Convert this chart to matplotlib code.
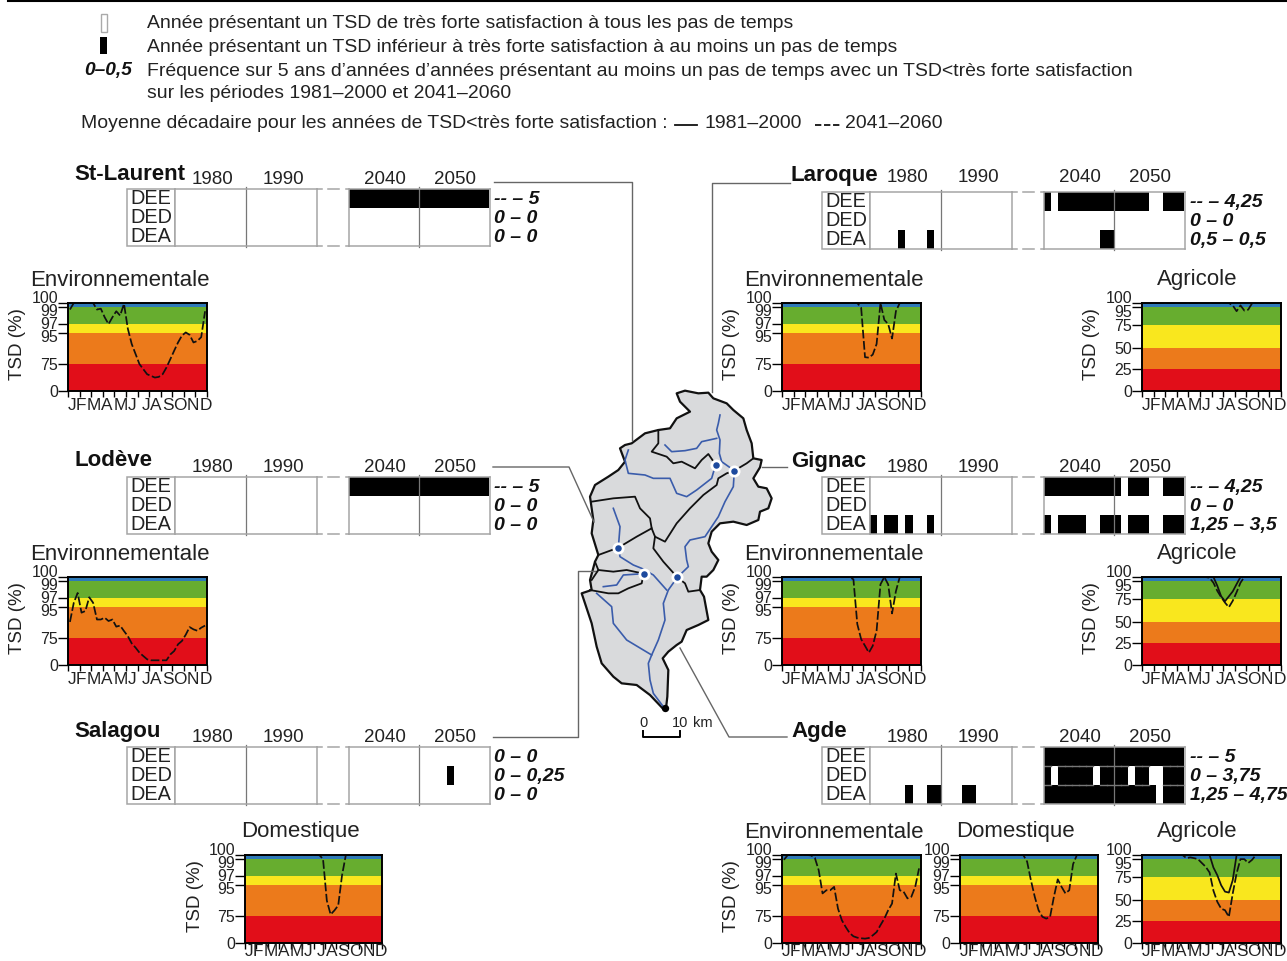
#TSD panels for the Herault stations, with basin map in the middle

import numpy as np
import matplotlib
matplotlib.use('Agg')
import matplotlib.pyplot as plt
from matplotlib.patches import Polygon, Rectangle
from matplotlib.transforms import ScaledTranslation

plt.rcParams['font.family'] = ['Liberation Sans', 'DejaVu Sans']

W, H = 1287, 961
TXT = '#222222'
GREY = '#a5a5a5'

MONTHS = ['J', 'F', 'M', 'A', 'M', 'J', 'J', 'A', 'S', 'O', 'N', 'D']
# the month letters sit side by side, not centred on their month
MONTH_POS = [0.95, 3.45, 6.75, 10.15, 13.55, 16.6, 20.1, 22.75, 25.8, 29.05, 32.45, 35.7]
ROWS = ['DEE', 'DED', 'DEA']

ENV_TICKS = [0, 75, 95, 97, 99, 100]
ENV_POS = [0, 0.31, 0.655, 0.76, 0.955, 1]
AGR_TICKS = [0, 25, 50, 75, 95, 100]
AGR_POS = [0, 0.245, 0.49, 0.75, 0.955, 1]

BAND_COLORS = ['#e10e19', '#ec7a1b', '#f9e71e', '#67ad2f', '#2e7ab8']

# 36 decades
stl_env = [98.7, 100, 100, 100, 100, 100, 100, 98.7, 98.8, 97.8, 97, 97.8,
           98.5, 98, 99.8, 96, 88, 81.4, 74, 60, 46, 41.6, 37, 38.8,
           46, 64.6, 78, 83.6, 89, 93.5, 95.2, 94, 89, 90, 92.5, 98.5]
lod_env = [85.4, 96, 97.6, 91.5, 92.6, 97.1, 96, 87, 87, 88.2, 86, 87,
           82.3, 83, 79.4, 76, 59.5, 47.7, 34, 24.7, 15.6, 12.9, 12.9, 12.9,
           12.9, 12.9, 29, 38.5, 57, 66, 77, 82, 80.5, 79.6, 81.6, 83]
sal_dom = [100, 100, 100, 100, 100, 100, 100, 100, 100, 100, 100, 100,
           100, 100, 100, 100, 100, 100, 100, 100, 99, 85, 75.8, 78.5,
           81.8, 97.1, 100, 100, 100, 100, 100, 100, 100, 100, 100, 100]
lar_env = [100, 100, 100, 100, 100, 100, 100, 100, 100, 100, 100, 100,
           100, 100, 100, 100, 100, 100, 100, 100, 98.9, 79.3, 79, 81,
           88, 100, 97.5, 97, 91.6, 98.5, 100, 100, 100, 100, 100, 100]
lar_agr = [100, 100, 100, 100, 100, 100, 100, 100, 100, 100, 100, 100,
           100, 100, 100, 100, 100, 100, 100, 100, 100, 100, 100, 97,
           90.3, 97, 91, 92, 99.5, 100, 100, 100, 100, 100, 100, 100]
gig_env = [100, 100, 100, 100, 100, 100, 100, 100, 100, 100, 100, 100,
           100, 100, 100, 100, 100, 100, 99.4, 84, 71, 52.7, 34, 52.7,
           79.6, 98.6, 100, 98.6, 91, 97.8, 100, 100, 100, 100, 100, 100]
gig_agr_old = [100, 100, 100, 100, 100, 100, 100, 100, 100, 100, 100, 100,
               100, 100, 100, 100, 100, 100, 100, 89.7, 78, 72.6, 78, 83.4,
               91.5, 100, 100, 100, 100, 100, 100, 100, 100, 100, 100, 100]
gig_agr = [100, 100, 100, 100, 100, 100, 100, 100, 100, 100, 100, 100,
           100, 100, 100, 100, 100, 99, 93, 84, 77, 71, 66, 73,
           82.5, 93, 100, 100, 100, 100, 100, 100, 100, 100, 100, 100]
agd_env = [98.9, 100, 100, 100, 100, 100, 100, 99.9, 99.3, 97.7, 89.7, 91.8,
           91.8, 94, 79.7, 62.6, 44, 27.6, 18.4, 14.7, 13, 12, 13.8, 21,
           30, 49, 67, 78.6, 83, 97.3, 91.8, 90.8, 86.4, 87.5, 94, 97.9]
agd_dom = [100, 100, 100, 100, 100, 100, 100, 100, 100, 100, 100, 100,
           100, 100, 100, 100, 100, 98.7, 96.1, 87.5, 78.6, 72, 67, 72,
           87.5, 96.3, 94, 89.7, 91.8, 98.4, 100, 100, 100, 100, 100, 100]
agd_agr_old = [100, 100, 100, 100, 100, 100, 100, 100, 100, 100, 100, 100,
               100, 100, 100, 100, 100, 100, 85.5, 77, 66, 59, 58, 71.6,
               100, 100, 100, 100, 100, 100, 100, 100, 100, 100, 100, 100]
agd_agr = [100, 100, 100, 100, 100, 100, 100, 100, 100, 100, 100, 96,
           97, 96, 94.8, 90.5, 86.3, 80, 60, 47.8, 39.8, 38, 30.3, 57,
           79, 94.8, 94.8, 90.5, 94, 100, 100, 100, 100, 100, 100, 100]

# years with TSD below very high satisfaction, [DEE, DED, DEA]
stl_past = [[], [], []]
stl_fut = [list(range(2041, 2061)), [], []]
lod_past = [[], [], []]
lod_fut = [list(range(2041, 2061)), [], []]
sal_past = [[], [], []]
sal_fut = [[], [2055], []]
lar_past = [[], [], [1985, 1989]]
lar_fut = [[2041, 2043, 2044, 2045, 2046, 2047, 2048, 2049, 2050, 2051, 2052, 2053, 2054, 2055, 2058, 2059, 2060],
           [], [2049, 2050]]
gig_past = [[], [], [1981, 1983, 1984, 1986, 1989]]
gig_fut = [[2041, 2042, 2043, 2044, 2045, 2046, 2047, 2048, 2049, 2050, 2051, 2053, 2054, 2055, 2058, 2059, 2060],
           [],
           [2041, 2043, 2044, 2045, 2046, 2049, 2050, 2051, 2053, 2054, 2055, 2058, 2059, 2060]]
agd_past = [[], [], [1986, 1989, 1990, 1994, 1995]]
agd_fut = [list(range(2041, 2061)),
           [2041, 2043, 2044, 2045, 2046, 2047, 2049, 2050, 2051, 2052, 2054, 2055, 2058, 2059, 2060],
           [2041, 2042, 2043, 2044, 2045, 2046, 2047, 2048, 2049, 2050, 2051, 2052, 2053, 2054, 2055, 2056, 2058, 2059, 2060]]

stl_freq = ['-- \u2013 5', '0 \u2013 0', '0 \u2013 0']
lod_freq = ['-- \u2013 5', '0 \u2013 0', '0 \u2013 0']
sal_freq = ['0 \u2013 0', '0 \u2013 0,25', '0 \u2013 0']
lar_freq = ['-- \u2013 4,25', '0 \u2013 0', '0,5 \u2013 0,5']
gig_freq = ['-- \u2013 4,25', '0 \u2013 0', '1,25 \u2013 3,5']
agd_freq = ['-- \u2013 5', '0 \u2013 3,75', '1,25 \u2013 4,75']

# basin map, in units of a 3x crop starting at (570, 380)
basin = [(320, 40), (345, 32), (385, 40), (415, 38), (430, 55), (470, 70), (490, 90), (520, 115),
         (530, 150), (545, 190), (550, 235), (575, 240), (570, 262), (550, 295), (565, 320), (590, 325),
         (605, 355), (595, 385), (570, 395), (565, 420), (530, 435), (490, 425), (450, 430), (425, 455),
         (415, 490), (425, 515), (445, 540), (430, 570), (410, 590), (395, 590), (390, 630), (402, 650),
         (415, 720), (385, 735), (350, 750), (335, 785), (320, 795), (295, 815), (278, 835), (295, 870),
         (292, 950), (288, 985), (278, 985), (240, 945), (200, 915), (155, 910), (130, 890), (95, 850),
         (80, 800), (65, 730), (45, 670), (35, 640), (65, 630), (60, 600), (75, 545), (85, 525),
         (65, 460), (70, 420), (60, 350), (75, 315), (115, 290), (145, 270), (165, 245), (150, 205),
         (165, 195), (185, 190), (225, 160), (265, 150), (300, 145), (320, 115), (360, 95), (330, 65)]
borders = [
    [(265, 150), (265, 190), (245, 215), (290, 230), (310, 250), (335, 245), (375, 265), (395, 240), (415, 222), (437, 254)],
    [(550, 235), (530, 250), (493, 272), (470, 280), (445, 295), (440, 315), (400, 345), (360, 385), (320, 430),
     (285, 485), (255, 470), (245, 445)],
    [(65, 365), (130, 355), (195, 350), (210, 385), (240, 415), (245, 445), (200, 470), (145, 503), (85, 525)],
    [(255, 470), (250, 505), (280, 545), (322, 592), (345, 610), (355, 635), (390, 630)],
    [(75, 545), (85, 570), (130, 575), (170, 570), (221, 581), (215, 610), (175, 625), (145, 640), (115, 640), (60, 630)],
    [(85, 570), (65, 600)],
]
rivers = [
    [(450, 105), (445, 130), (440, 150), (450, 180), (448, 220), (455, 245), (493, 272)],
    [(285, 195), (305, 215), (345, 212), (380, 205), (395, 185), (440, 175)],
    [(175, 210), (165, 240), (175, 280), (225, 285), (250, 295), (300, 295), (320, 340), (350, 350), (380, 330), (425, 295), (437, 254)],
    [(493, 272), (490, 320), (465, 365), (445, 410), (405, 470), (360, 480), (345, 500), (350, 540), (355, 560), (322, 592)],
    [(130, 385), (150, 440), (145, 503), (150, 530), (190, 555), (215, 565), (250, 585), (290, 630)],
    [(322, 592), (295, 630), (280, 670), (285, 720), (265, 780), (245, 825), (235, 850), (240, 900), (250, 940), (280, 980)],
    [(80, 640), (125, 680), (130, 730), (170, 780), (245, 825)],
    [(100, 620), (140, 615), (160, 585), (221, 581)],
]
stations = [(437, 254), (493, 272), (145, 503), (221, 581), (322, 592)]

fig = plt.figure(figsize=(W / 100, H / 100), dpi=100)
bg = fig.add_axes([0, 0, 1, 1])
bg.set_xlim(0, W)
bg.set_ylim(H, 0)
bg.axis('off')


def px_axes(x0, y0, x1, y1):
    return fig.add_axes([x0 / W, 1 - y1 / H, (x1 - x0) / W, (y1 - y0) / H])


def crop(pts):
    a = np.array(pts, dtype=float)
    return a / 3 + [570, 380]


def tsd_panel(x0, y0, x1, y1, title, title_x, ticks, pos, series_dash, series_solid=None, ylabel=True, month_pad=5):
    ax = px_axes(x0, y0, x1, y1)
    ax.set_yscale('function', functions=(lambda v: np.interp(v, ticks, pos),
                                         lambda f: np.interp(f, pos, ticks)))
    ax.set_ylim(0, 100)
    ax.set_xlim(0, 36)
    for i in range(5):
        ax.axhspan(ticks[i], ticks[i + 1], color=BAND_COLORS[i], lw=0)
    x = np.arange(36) + 0.5
    if series_solid is not None:
        ax.plot(x, series_solid, color='#111111', lw=1.25)
    ax.plot(x, series_dash, color='#111111', lw=1.25, ls=(0, (5, 1.5)))
    ax.set_yticks(ticks)
    ax.set_yticklabels([str(t) for t in ticks], fontsize=11.5, color=TXT)
    ax.yaxis.set_minor_locator(matplotlib.ticker.NullLocator())
    ax.tick_params(axis='y', length=7, width=1, pad=0)
    # the top labels are pushed apart so they stay readable
    shifts = {100: 6, 99: -3, 97: 1, 95: -3} if ticks is ENV_TICKS else {100: 6, 95: -4}
    for lab, t in zip(ax.get_yticklabels(), ticks):
        if t in shifts:
            lab.set_transform(lab.get_transform() + ScaledTranslation(0, shifts[t] / 100, fig.dpi_scale_trans))
    ax.set_xticks(np.arange(0, 37, 3))
    ax.set_xticklabels([])
    ax.set_xticks(MONTH_POS, labels=MONTHS, minor=True, fontsize=12.4, color=TXT)
    ax.tick_params(axis='x', which='major', length=4, width=1)
    ax.tick_params(axis='x', which='minor', length=0, pad=month_pad)
    for s in ax.spines.values():
        s.set_linewidth(1.4)
    bg.text(title_x, y0 - 23, title, fontsize=16, color=TXT, ha='center', va='center')
    if ylabel:
        bg.text(x0 - 50, (y0 + y1) / 2 - 3, 'TSD (%)', fontsize=13.5, color=TXT, rotation=90, ha='center', va='center')
    return ax


def period_axes(x0, y0, x1, y1, start, labels, black, label_shift, label_pad):
    ax = px_axes(x0, y0, x1, y1)
    ax.set_xlim(start, start + 20)
    ax.set_ylim(3, 0)
    for r in range(3):
        for yr in black[r]:
            ax.bar(yr, 1, width=1, bottom=r, align='edge', color='black', lw=0)
    for r in range(2):
        for yr in set(black[r]) & set(black[r + 1]):
            ax.plot([yr, yr + 1], [r + 1, r + 1], color='#777777', lw=1)
    ax.set_xticks([start + 5 + label_shift, start + 15 + label_shift], labels=labels, fontsize=13.5, color=TXT)
    ax.set_yticks([])
    ax.tick_params(axis='x', length=0, pad=label_pad, bottom=False, top=False, labelbottom=False, labeltop=True)
    ax.plot([start + 10, start + 10], [-0.12, 3.1], color='#777777', lw=0.9, clip_on=False)
    for s in ax.spines.values():
        s.set_color(GREY)
        s.set_linewidth(1.1)
    return ax


def strip(name, x_off, y0, past, fut, freq, name_x, name_y, label_pad=1):
    y1 = y0 + 56.5
    x_lab, x_a, x_b, x_c, x_d = 127 + x_off, 175 + x_off, 317 + x_off, 349 + x_off, 489.5 + x_off
    period_axes(x_a, y0, x_b, y1, 1981, ['1980', '1990'], past, 0.3, label_pad)
    period_axes(x_c, y0, x_d, y1, 2041, ['2040', '2050'], fut, 0.1, label_pad)
    bg.add_patch(Rectangle((x_lab, y0), x_a - x_lab, y1 - y0, fc='white', ec=GREY, lw=1.1))
    for r, row in enumerate(ROWS):
        ym = y0 + (r + 0.5) * (y1 - y0) / 3
        bg.text((x_lab + x_a) / 2, ym + 0.5, row, fontsize=14.3, color=TXT, ha='center', va='center')
        bg.text(x_d + 5, ym + 1, freq[r], fontsize=14, color='#111111', style='italic', weight='bold', ha='left', va='center')
    for yy in (y0, y1):
        bg.plot([x_b, x_b + 5], [yy, yy], color=GREY, lw=1.1)
        bg.plot([x_b + 11, x_b + 22], [yy, yy], color=GREY, lw=1.1)
        bg.plot([x_c - 3, x_c], [yy, yy], color=GREY, lw=1.1)
    bg.text(name_x, name_y, name, fontsize=16, weight='bold', color='#111111', ha='left', va='center')


# legend block
bg.plot([8, W], [0.5, 0.5], color='black', lw=1.5)
bg.add_patch(Rectangle((100.5, 14), 6.5, 18, fc='white', ec='#aaaaaa', lw=1))
bg.add_patch(Rectangle((100, 37), 7, 17, fc='black', ec='none'))
legend_lines = [
    (147, 24, 'Année présentant un TSD de très forte satisfaction à tous les pas de temps'),
    (147, 47, 'Année présentant un TSD inférieur à très forte satisfaction à au moins un pas de temps'),
    (147, 71, 'Fréquence sur 5 ans d\u2019années d\u2019années présentant au moins un pas de temps avec un TSD<très forte satisfaction'),
    (147, 94, 'sur les périodes 1981\u20132000 et 2041\u20132060'),
    (81, 124, 'Moyenne décadaire pour les années de TSD<très forte satisfaction :'),
    (704, 124, '1981\u20132000'),
    (845, 124, '2041\u20132060'),
]
for lx, ly, s in legend_lines:
    bg.text(lx, ly, s, fontsize=13.95, color=TXT, ha='left', va='center')
bg.text(84, 70, '0\u20130,5', fontsize=13.8, style='italic', weight='bold', color='#111111', ha='left', va='center')
bg.plot([675, 697], [125, 125], color='#111111', lw=1.3)
bg.plot([815, 840], [125, 125], color='#111111', lw=1.3, ls=(0, (3.5, 1.5)))

# connectors between station names and the map
connectors = [
    [(494, 182), (632, 182), (632, 440)],
    [(790, 183), (712, 183), (712, 392)],
    [(493, 467), (569, 467), (594, 522)],
    [(762, 467), (787, 467)],
    [(493, 737), (578, 737), (578, 571), (597, 571)],
    [(787, 737), (729, 737), (680, 648)],
]
for c in connectors:
    a = np.array(c)
    bg.plot(a[:, 0], a[:, 1], color='#666666', lw=1)

# basin
bg.add_patch(Polygon(crop(basin), closed=True, fc='#d9dadc', ec='#111111', lw=1.6, joinstyle='round'))
for b in borders:
    a = crop(b)
    bg.plot(a[:, 0], a[:, 1], color='#111111', lw=1.3)
for rv in rivers:
    a = crop(rv)
    bg.plot(a[:, 0], a[:, 1], color='#3a5cab', lw=1.2)
st = crop(stations)
bg.scatter(st[:, 0], st[:, 1], s=75, color='white', lw=0, zorder=5)
bg.scatter(st[:, 0], st[:, 1], s=22, color='#1d4a9e', lw=0, zorder=6)
bg.scatter([665], [708], s=28, color='black', lw=0, zorder=6)

# scale bar
bg.plot([643, 643, 680, 680], [731, 737, 737, 731], color='black', lw=1.4)
bg.text(644, 723, '0', fontsize=10.5, color=TXT, ha='center', va='center')
bg.text(680, 723, '10', fontsize=10.5, color=TXT, ha='center', va='center')
bg.text(703, 723, 'km', fontsize=10.5, color=TXT, ha='center', va='center')

# strips
strip('St-Laurent', 0, 189, stl_past, stl_fut, stl_freq, 74, 175)
strip('Lodève', 0, 477, lod_past, lod_fut, lod_freq, 74, 461)
strip('Salagou', 0, 747, sal_past, sal_fut, sal_freq, 74, 732)
strip('Laroque', 695, 192, lar_past, lar_fut, lar_freq, 791, 176, label_pad=4)
strip('Gignac', 695, 477, gig_past, gig_fut, gig_freq, 791, 461)
strip('Agde', 695, 747, agd_past, agd_fut, agd_freq, 791, 732)

# TSD panels
tsd_panel(68, 303, 207, 391, 'Environnementale', 120, ENV_TICKS, ENV_POS, stl_env)
tsd_panel(68, 577, 207, 665, 'Environnementale', 120, ENV_TICKS, ENV_POS, lod_env)
tsd_panel(245, 855, 382, 943, 'Domestique', 300, ENV_TICKS, ENV_POS, sal_dom, month_pad=0.5)
tsd_panel(782, 303, 921, 391, 'Environnementale', 834, ENV_TICKS, ENV_POS, lar_env)
tsd_panel(1142, 303, 1281, 391, 'Agricole', 1197, AGR_TICKS, AGR_POS, lar_agr)
tsd_panel(782, 577, 921, 665, 'Environnementale', 834, ENV_TICKS, ENV_POS, gig_env)
tsd_panel(1142, 577, 1281, 665, 'Agricole', 1197, AGR_TICKS, AGR_POS, gig_agr, gig_agr_old)
tsd_panel(782, 855, 921, 943, 'Environnementale', 834, ENV_TICKS, ENV_POS, agd_env, month_pad=0.5)
tsd_panel(960, 855, 1098, 943, 'Domestique', 1015, ENV_TICKS, ENV_POS, agd_dom, ylabel=False, month_pad=0.5)
tsd_panel(1142, 855, 1281, 943, 'Agricole', 1197, AGR_TICKS, AGR_POS, agd_agr, agd_agr_old, ylabel=False, month_pad=0.5)

fig.savefig('out.png', dpi=100)
